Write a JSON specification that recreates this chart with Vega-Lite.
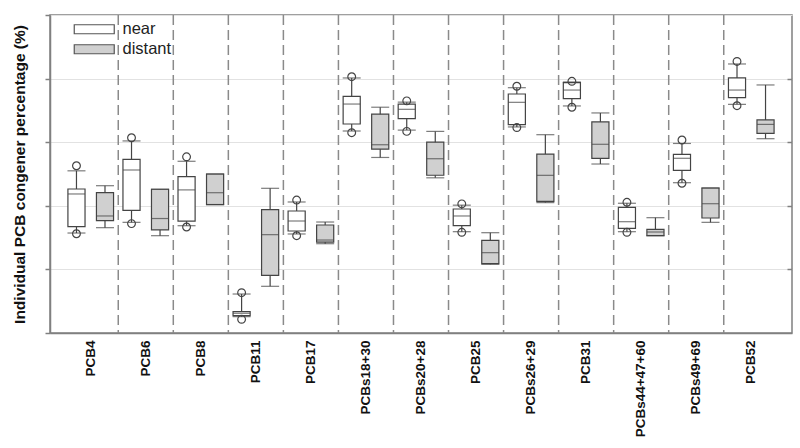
{
  "$schema": "https://vega.github.io/schema/vega-lite/v6.json",
  "width": 742,
  "height": 318,
  "autosize": {"type": "none"},
  "padding": {"left": 50, "top": 15, "right": 8, "bottom": 115},
  "background": "white",
  "config": {
    "font": "Liberation Sans",
    "view": {"stroke": "#808080", "strokeWidth": 1.5}
  },
  "datasets": {
    "boxes": [
      {"cat": "PCB4", "group": "near", "lo": 1.572, "q1": 1.671, "med": 2.186, "q3": 2.264, "hi": 2.55},
      {"cat": "PCB4", "group": "distant", "lo": 1.656, "q1": 1.766, "med": 1.84, "q3": 2.206, "hi": 2.316},
      {"cat": "PCB6", "group": "near", "lo": 1.74, "q1": 1.929, "med": 2.563, "q3": 2.73, "hi": 3.02},
      {"cat": "PCB6", "group": "distant", "lo": 1.53, "q1": 1.62, "med": 1.8, "q3": 2.26, "hi": 2.26},
      {"cat": "PCB8", "group": "near", "lo": 1.687, "q1": 1.76, "med": 2.25, "q3": 2.46, "hi": 2.7},
      {"cat": "PCB8", "group": "distant", "lo": 2.02, "q1": 2.02, "med": 2.206, "q3": 2.5, "hi": 2.5},
      {"cat": "PCB11", "group": "near", "lo": 0.257, "q1": 0.272, "med": 0.31, "q3": 0.335, "hi": 0.613},
      {"cat": "PCB11", "group": "distant", "lo": 0.734, "q1": 0.907, "med": 1.546, "q3": 1.94, "hi": 2.275},
      {"cat": "PCB17", "group": "near", "lo": 1.557, "q1": 1.604, "med": 1.761, "q3": 1.918, "hi": 2.06},
      {"cat": "PCB17", "group": "distant", "lo": 1.404, "q1": 1.43, "med": 1.462, "q3": 1.698, "hi": 1.745},
      {"cat": "PCBs18+30", "group": "near", "lo": 3.176, "q1": 3.286, "med": 3.6, "q3": 3.72, "hi": 4.01},
      {"cat": "PCBs18+30", "group": "distant", "lo": 2.76, "q1": 2.89, "med": 2.96, "q3": 3.44, "hi": 3.55},
      {"cat": "PCBs20+28", "group": "near", "lo": 3.19, "q1": 3.37, "med": 3.517, "q3": 3.6, "hi": 3.63},
      {"cat": "PCBs20+28", "group": "distant", "lo": 2.44, "q1": 2.48, "med": 2.74, "q3": 3.0, "hi": 3.17},
      {"cat": "PCB25", "group": "near", "lo": 1.593, "q1": 1.687, "med": 1.84, "q3": 1.95, "hi": 2.01},
      {"cat": "PCB25", "group": "distant", "lo": 1.08, "q1": 1.09, "med": 1.263, "q3": 1.457, "hi": 1.577},
      {"cat": "PCBs26+29", "group": "near", "lo": 3.24, "q1": 3.275, "med": 3.627, "q3": 3.758, "hi": 3.857},
      {"cat": "PCBs26+29", "group": "distant", "lo": 2.05, "q1": 2.07, "med": 2.479, "q3": 2.814, "hi": 3.118},
      {"cat": "PCB31", "group": "near", "lo": 3.57, "q1": 3.684, "med": 3.82, "q3": 3.936, "hi": 3.947},
      {"cat": "PCB31", "group": "distant", "lo": 2.657, "q1": 2.747, "med": 2.967, "q3": 3.32, "hi": 3.46},
      {"cat": "PCBs44+47+60", "group": "near", "lo": 1.593, "q1": 1.646, "med": 1.75, "q3": 1.976, "hi": 2.04},
      {"cat": "PCBs44+47+60", "group": "distant", "lo": 1.53, "q1": 1.53, "med": 1.588, "q3": 1.63, "hi": 1.813},
      {"cat": "PCBs49+69", "group": "near", "lo": 2.363, "q1": 2.558, "med": 2.747, "q3": 2.81, "hi": 2.98},
      {"cat": "PCBs49+69", "group": "distant", "lo": 1.74, "q1": 1.808, "med": 2.033, "q3": 2.28, "hi": 2.28},
      {"cat": "PCB52", "group": "near", "lo": 3.595, "q1": 3.7, "med": 3.82, "q3": 4.01, "hi": 4.23},
      {"cat": "PCB52", "group": "distant", "lo": 3.055, "q1": 3.14, "med": 3.28, "q3": 3.35, "hi": 3.9}
    ],
    "circles": [
      {"cat": "PCB4", "group": "near", "v": 2.63}, {"cat": "PCB4", "group": "near", "v": 1.56},
      {"cat": "PCB6", "group": "near", "v": 3.07}, {"cat": "PCB6", "group": "near", "v": 1.72},
      {"cat": "PCB8", "group": "near", "v": 2.77}, {"cat": "PCB8", "group": "near", "v": 1.667},
      {"cat": "PCB11", "group": "near", "v": 0.634}, {"cat": "PCB11", "group": "near", "v": 0.215},
      {"cat": "PCB17", "group": "near", "v": 2.09}, {"cat": "PCB17", "group": "near", "v": 1.53},
      {"cat": "PCBs18+30", "group": "near", "v": 4.03}, {"cat": "PCBs18+30", "group": "near", "v": 3.15},
      {"cat": "PCBs20+28", "group": "near", "v": 3.65}, {"cat": "PCBs20+28", "group": "near", "v": 3.17},
      {"cat": "PCB25", "group": "near", "v": 2.03}, {"cat": "PCB25", "group": "near", "v": 1.583},
      {"cat": "PCBs26+29", "group": "near", "v": 3.88}, {"cat": "PCBs26+29", "group": "near", "v": 3.23},
      {"cat": "PCB31", "group": "near", "v": 3.957}, {"cat": "PCB31", "group": "near", "v": 3.55},
      {"cat": "PCBs44+47+60", "group": "near", "v": 2.055}, {"cat": "PCBs44+47+60", "group": "near", "v": 1.583},
      {"cat": "PCBs49+69", "group": "near", "v": 3.035}, {"cat": "PCBs49+69", "group": "near", "v": 2.354},
      {"cat": "PCB52", "group": "near", "v": 4.27}, {"cat": "PCB52", "group": "near", "v": 3.574}
    ],
    "dividers": [
      {"cat": "PCB6"}, {"cat": "PCB8"}, {"cat": "PCB11"}, {"cat": "PCB17"}, {"cat": "PCBs18+30"},
      {"cat": "PCBs20+28"}, {"cat": "PCB25"}, {"cat": "PCBs26+29"}, {"cat": "PCB31"},
      {"cat": "PCBs44+47+60"}, {"cat": "PCBs49+69"}, {"cat": "PCB52"}
    ]
  },
  "encoding": {
    "x": {
      "field": "cat", "type": "nominal",
      "scale": {
        "domain": ["PCB4", "PCB6", "PCB8", "PCB11", "PCB17", "PCBs18+30", "PCBs20+28", "PCB25", "PCBs26+29", "PCB31", "PCBs44+47+60", "PCBs49+69", "PCB52"],
        "paddingInner": 0, "paddingOuter": 0.24
      },
      "axis": {
        "title": null, "labelAngle": -90, "labelFont": "Liberation Sans", "labelFontWeight": "bold",
        "labelFontSize": 13.5, "labelColor": "#111", "labelPadding": 7, "ticks": false,
        "domainColor": "#808080", "domainWidth": 1.5, "grid": false
      }
    }
  },
  "layer": [
    {
      "data": {"name": "dividers"},
      "mark": {"type": "rule", "color": "#8a8a8a", "strokeWidth": 1.5, "strokeDash": [10, 5]},
      "encoding": {
        "x": {"field": "cat", "type": "nominal", "bandPosition": 0}
      }
    },
    {
      "data": {"name": "boxes"},
      "mark": {"type": "rule", "color": "#444", "strokeWidth": 1.2},
      "encoding": {
        "xOffset": {"field": "group", "type": "nominal", "scale": {"domain": ["near", "distant"], "paddingInner": 0.4, "paddingOuter": 0.165}},
        "y": {
          "field": "lo", "type": "quantitative",
          "scale": {"domain": [0, 5], "nice": false, "zero": false},
          "axis": {
            "title": "Individual PCB congener percentage (%)", "titleFont": "Liberation Sans",
            "titleFontWeight": "bold", "titleFontSize": 15.5, "titleColor": "#111", "titlePadding": 17,
            "values": [0, 1, 2, 3, 4, 5], "labels": false, "tickSize": 5, "tickColor": "#808080", "tickWidth": 1.5,
            "domainColor": "#808080", "domainWidth": 1.5, "grid": true, "gridColor": "#e2e2e2", "gridWidth": 1.2
          }
        },
        "y2": {"field": "hi"}
      }
    },
    {
      "data": {"name": "boxes"},
      "mark": {"type": "bar", "stroke": "#444", "strokeWidth": 1.2},
      "encoding": {
        "xOffset": {"field": "group", "type": "nominal", "scale": {"domain": ["near", "distant"]}},
        "y": {"field": "q1", "type": "quantitative", "axis": null},
        "y2": {"field": "q3"},
        "fill": {
          "field": "group", "type": "nominal",
          "scale": {"domain": ["near", "distant"], "range": ["#ffffff", "#d0d0d0"]},
          "legend": {
            "title": null, "orient": "none", "legendX": 21, "legendY": 6,
            "symbolType": "M-4,-0.9H4V0.9H-4Z", "symbolSize": 100, "symbolOffset": 15,
            "symbolStrokeColor": "#555", "symbolStrokeWidth": 1.2,
            "labelFont": "Liberation Sans", "labelFontSize": 16.5, "labelColor": "#222",
            "labelOffset": 20, "rowPadding": 3
          }
        }
      }
    },
    {
      "data": {"name": "boxes"},
      "mark": {"type": "tick", "color": "#444", "thickness": 1.2, "size": 17},
      "encoding": {
        "xOffset": {"field": "group", "type": "nominal"},
        "y": {"field": "med", "type": "quantitative", "axis": {
          "orient": "right", "title": null, "labels": false, "domain": false, "grid": false,
          "values": [1, 2, 3, 4], "tickSize": -5, "tickColor": "#808080", "tickWidth": 1.5
        }}
      }
    },
    {
      "data": {"name": "boxes"},
      "mark": {"type": "tick", "color": "#444", "thickness": 1.2, "size": 18},
      "encoding": {
        "xOffset": {"field": "group", "type": "nominal"},
        "y": {"field": "lo", "type": "quantitative", "axis": null}
      }
    },
    {
      "data": {"name": "boxes"},
      "mark": {"type": "tick", "color": "#444", "thickness": 1.2, "size": 18},
      "encoding": {
        "xOffset": {"field": "group", "type": "nominal"},
        "y": {"field": "hi", "type": "quantitative", "axis": null}
      }
    },
    {
      "data": {"name": "circles"},
      "mark": {"type": "point", "filled": false, "color": "#444", "strokeWidth": 1.2, "size": 60, "opacity": 1},
      "encoding": {
        "xOffset": {"field": "group", "type": "nominal"},
        "y": {"field": "v", "type": "quantitative", "axis": null}
      }
    }
  ],
  "resolve": {"axis": {"y": "independent"}}
}
